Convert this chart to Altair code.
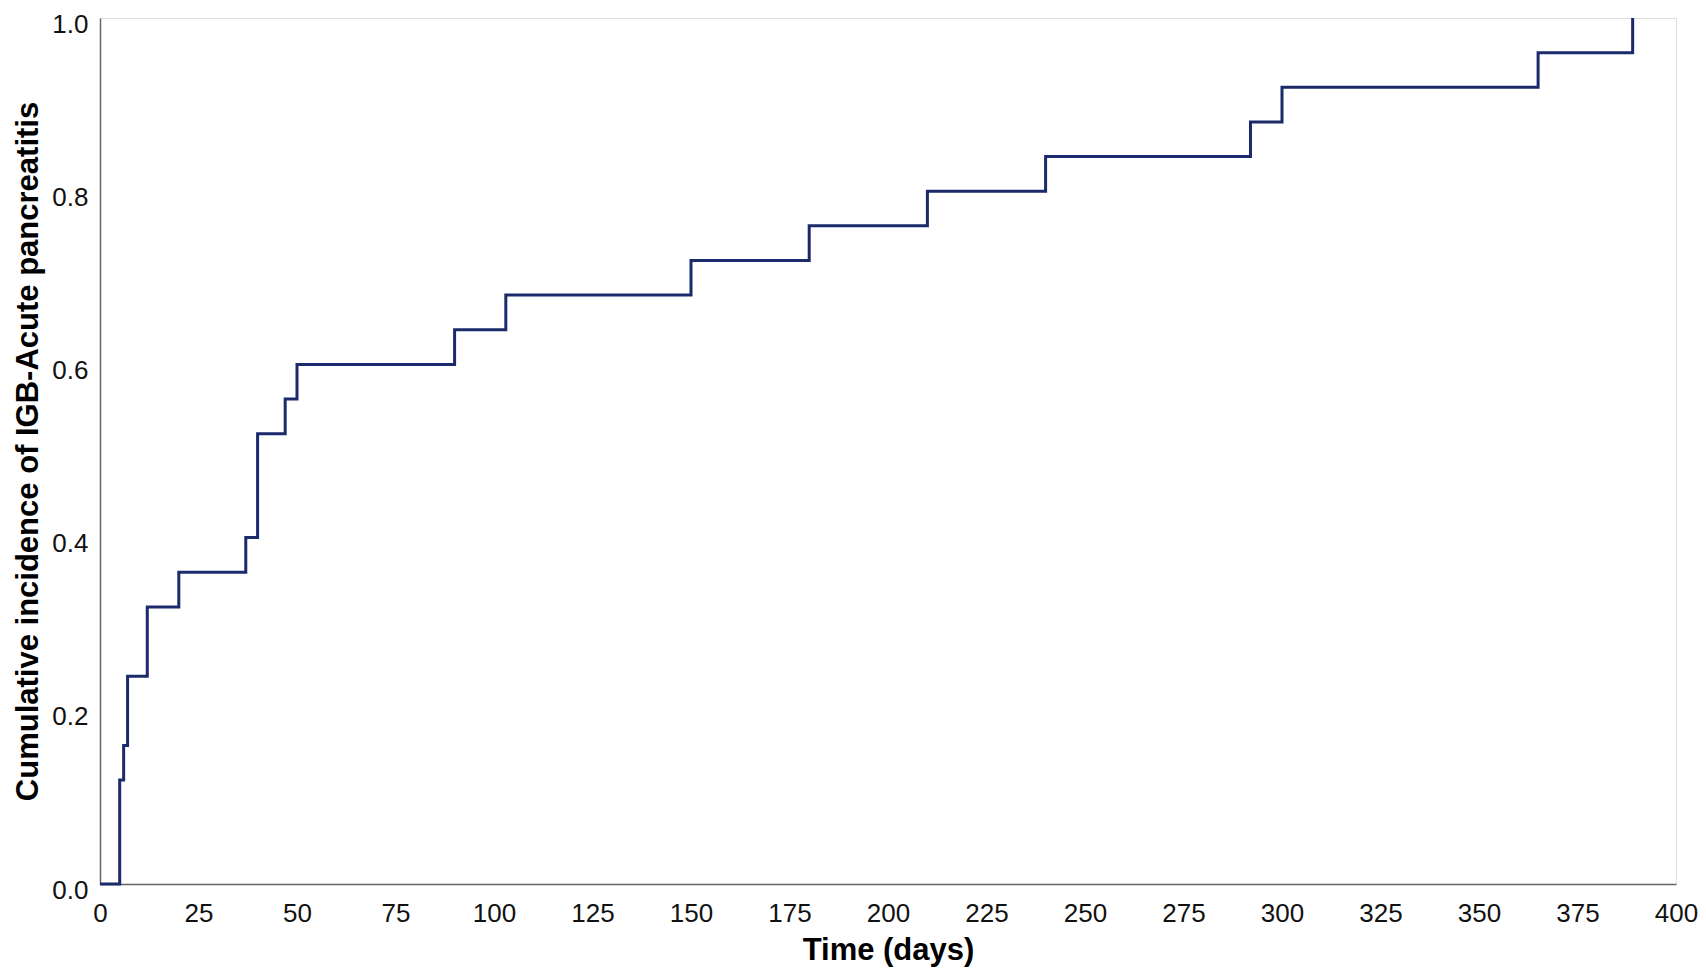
import altair as alt
import pandas as pd

days = [0, 5, 6, 7, 12, 20, 37, 40, 47, 50, 90, 103, 150, 180, 210, 240, 292, 300, 365, 389]
incidence = [0.0, 0.12, 0.16, 0.24, 0.32, 0.36, 0.40, 0.52, 0.56, 0.60, 0.64, 0.68,
             0.72, 0.76, 0.80, 0.84, 0.88, 0.92, 0.96, 1.0]
x_ticks = list(range(0, 401, 25))
y_ticks = [0.0, 0.2, 0.4, 0.6, 0.8, 1.0]

df = pd.DataFrame({"day": days, "inc": incidence})

FONT = "Liberation Sans"

chart = alt.Chart(df).mark_line(
    interpolate="step-after", color="#1b2a6b", strokeWidth=3, clip=False
).encode(
    x=alt.X("day:Q", scale=alt.Scale(domain=[0, 400], nice=False, zero=True),
            axis=alt.Axis(title="Time (days)", values=x_ticks, format="d",
                          ticks=False, grid=False, domainColor="#666666", domainWidth=1.5,
                          labelFont=FONT, labelFontSize=26, labelColor="#111111",
                          labelPadding=16, labelFlush=False,
                          titleFont=FONT, titleFontSize=31, titleFontWeight="bold",
                          titleColor="#000000", titleY=66, titleBaseline="middle")),
    y=alt.Y("inc:Q", scale=alt.Scale(domain=[0, 1], nice=False),
            axis=alt.Axis(title="Cumulative incidence of IGB-Acute pancreatitis",
                          values=y_ticks, format=".1f",
                          ticks=False, grid=False, domainColor="#666666", domainWidth=1.5,
                          labelFont=FONT, labelFontSize=26, labelColor="#111111",
                          labelPadding=12, labelOffset=6, labelFlush=False,
                          titleFont=FONT, titleFontSize=31, titleFontWeight="bold",
                          titleColor="#000000", titleX=-72, titleBaseline="middle",
                          titleAngle=270)),
).properties(
    width=1576,
    height=866,
    autosize=alt.AutoSizeParams(type="none"),
    padding={"left": 92, "top": 10, "right": 22, "bottom": 86},
).configure_view(stroke=None).configure(background="white")

chart.save("out.html", embed_options={"renderer": "svg", "actions": False})
